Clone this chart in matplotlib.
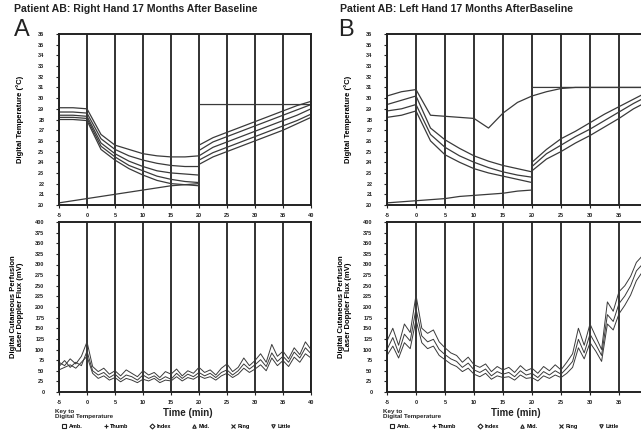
import numpy as np
import matplotlib.pyplot as plt
from matplotlib.lines import Line2D

plt.rcParams['font.family'] = ['Liberation Sans', 'DejaVu Sans']
plt.rcParams['font.weight'] = 'bold'

# ── data ──────────────────────────────────────────────────────
titles = ['Patient AB: Right Hand 17 Months After Baseline',
          'Patient AB: Left Hand 17 Months AfterBaseline']
panel_letters = ['A', 'B']
legend_names = ['Amb.', 'Thumb', 'Index', 'Mid.', 'Ring', 'Little']
legend_marks = ['s', '+', 'D', '^', 'x', 'v']

x_ticks = [-5, 0, 5, 10, 15, 20, 25, 30, 35, 40]

# temperature curves (deg C), time grid has the step at t=20 twice
t_temp = [-5, -2.5, 0, 2.5, 5, 7.5, 10, 12.5, 15, 17.5, 20, 20,
          22.5, 25, 27.5, 30, 32.5, 35, 37.5, 40]

tempA = [
    [20.2, 20.4, 20.6, 20.8, 21.0, 21.2, 21.4, 21.6, 21.8, 21.9, 22.0, 29.4,
     29.4, 29.4, 29.4, 29.4, 29.4, 29.4, 29.4, 29.4],
    [29.1, 29.1, 29.0, 26.6, 25.6, 25.2, 24.8, 24.6, 24.5, 24.5, 24.6, 25.6,
     26.3, 26.8, 27.3, 27.8, 28.3, 28.8, 29.3, 29.7],
    [28.7, 28.7, 28.6, 26.2, 25.2, 24.6, 24.2, 23.9, 23.7, 23.6, 23.6, 25.1,
     25.9, 26.4, 26.9, 27.4, 27.9, 28.4, 28.9, 29.4],
    [28.4, 28.4, 28.3, 25.8, 24.8, 24.1, 23.6, 23.2, 23.0, 22.9, 22.8, 24.6,
     25.4, 25.9, 26.4, 26.9, 27.4, 27.9, 28.4, 29.0],
    [28.2, 28.2, 28.1, 25.5, 24.5, 23.7, 23.2, 22.7, 22.4, 22.2, 22.1, 24.2,
     24.9, 25.4, 25.9, 26.4, 26.9, 27.4, 27.9, 28.5],
    [28.0, 28.0, 27.9, 25.2, 24.2, 23.4, 22.8, 22.3, 22.0, 21.9, 21.8, 23.8,
     24.5, 25.0, 25.5, 26.0, 26.5, 27.0, 27.6, 28.2],
]

tempB = [
    [20.2, 20.3, 20.4, 20.5, 20.6, 20.8, 20.9, 21.0, 21.1, 21.3, 21.4, 31.0,
     31.0, 31.0, 31.0, 31.0, 31.0, 31.0, 31.0, 31.0],
    [30.2, 30.6, 30.8, 28.4, 28.3, 28.2, 28.1, 27.2, 28.6, 29.6, 30.2, 30.2,
     30.6, 30.9, 31.0, 31.0, 31.0, 31.0, 31.0, 31.0],
    [29.4, 29.8, 30.2, 27.2, 26.1, 25.3, 24.6, 24.1, 23.7, 23.4, 23.1, 24.0,
     25.2, 26.2, 26.9, 27.7, 28.5, 29.2, 29.9, 30.6],
    [28.8, 29.0, 29.4, 26.6, 25.4, 24.6, 24.0, 23.5, 23.1, 22.8, 22.6, 23.6,
     24.8, 25.6, 26.4, 27.1, 27.9, 28.7, 29.5, 30.2],
    [28.2, 28.4, 28.8, 26.0, 24.7, 24.0, 23.4, 23.0, 22.7, 22.4, 22.1, 23.2,
     24.3, 25.0, 25.8, 26.5, 27.3, 28.1, 29.0, 29.7],
]

# laser doppler flux, one value per minute from -5 to 40
t_flux = list(range(-5, 41))

fluxA = [
    [70, 62, 78, 66, 84, 118, 60, 48, 56, 42, 50, 38, 52, 44, 36, 50, 40, 46,
     34, 48, 42, 54, 38, 50, 44, 58, 46, 52, 40, 56, 66, 48, 58, 80, 62, 74,
     90, 70, 112, 84, 96, 78, 104, 88, 118, 100],
    [60, 74, 58, 70, 62, 96, 50, 40, 46, 34, 42, 30, 40, 36, 28, 40, 32, 38,
     28, 36, 30, 44, 32, 42, 36, 46, 38, 44, 34, 46, 52, 40, 50, 66, 54, 64,
     76, 60, 92, 72, 84, 70, 94, 80, 104, 90],
    [52, 58, 64, 56, 70, 84, 44, 32, 38, 28, 34, 24, 32, 28, 22, 30, 26, 32,
     22, 28, 26, 36, 26, 34, 30, 38, 32, 36, 28, 38, 44, 34, 42, 56, 46, 54,
     64, 50, 80, 62, 74, 60, 82, 70, 90, 80],
]

fluxB = [
    [120, 150, 110, 160, 140, 228, 150, 138, 146, 118, 104, 92, 86, 70, 82,
     64, 58, 66, 48, 60, 52, 58, 46, 62, 50, 56, 44, 60, 50, 64, 52, 70, 90,
     150, 110, 160, 130, 100, 212, 190, 236, 250, 272, 305, 320, 335],
    [100, 128, 92, 136, 120, 196, 132, 118, 124, 100, 88, 78, 72, 58, 68, 52,
     46, 54, 38, 48, 42, 46, 36, 50, 40, 44, 34, 48, 40, 50, 42, 56, 72, 124,
     92, 136, 112, 86, 182, 166, 208, 226, 250, 285, 300, 315],
    [86, 108, 80, 116, 102, 170, 116, 102, 108, 86, 76, 66, 60, 48, 56, 42,
     36, 44, 30, 38, 34, 36, 28, 40, 32, 34, 26, 38, 32, 40, 34, 44, 58, 104,
     78, 116, 96, 72, 160, 146, 184, 204, 228, 262, 282, 298],
]

# ── figure ────────────────────────────────────────────────────
W, H = 641, 438
fig = plt.figure(figsize=(W / 100, H / 100), dpi=100)


def frac(x, y, w, h):
    # pixel box -> figure fraction
    return [x / W, 1 - (y + h) / H, w / W, h / H]


def style_axes(ax, ylim, ystep, gridstep, xt):
    ax.set_xlim(-5, 40)
    ax.set_ylim(*ylim)
    ax.set_xticks(x_ticks)
    ax.set_xticklabels([str(v) if v in xt else '' for v in x_ticks])
    ax.set_yticks(np.arange(ylim[0], ylim[1] + ystep / 2, ystep))
    ax.set_yticks(np.arange(ylim[0], ylim[1] + gridstep / 2, gridstep), minor=True)
    ax.grid(True, axis='x', which='major', color='#222222', lw=1.3)
    ax.grid(True, axis='y', which='minor', color='#222222', lw=1.3)
    ax.tick_params(axis='both', which='major', labelsize=4, length=2.5,
                   width=0.8, colors='#222222')
    ax.tick_params(axis='x', which='major', pad=3)
    ax.tick_params(axis='y', which='major', pad=8)
    ax.tick_params(axis='y', which='minor', length=0)
    for s in ax.spines.values():
        s.set_color('#222222')
        s.set_linewidth(1.4)
    for lab in ax.get_xticklabels() + ax.get_yticklabels():
        lab.set_fontweight('bold')


panels = [
    dict(left=59, width=252, temp=tempA, flux=fluxA, tx=14, lx=14,
         xt=x_ticks),
    dict(left=387, width=261, temp=tempB, flux=fluxB, tx=340, lx=338,
         xt=x_ticks[:-1]),
]

for i, p in enumerate(panels):
    ax1 = fig.add_axes(frac(p['left'], 34, p['width'], 171))
    ax2 = fig.add_axes(frac(p['left'], 222, p['width'], 170))

    for series in p['temp']:
        ax1.plot(t_temp, series, color='#3a3a3a', lw=0.9)
    for series in p['flux']:
        ax2.plot(t_flux, series, color='#3a3a3a', lw=0.7)

    style_axes(ax1, (20, 36), 1, 2, p['xt'])
    style_axes(ax2, (0, 400), 25, 50, p['xt'])

    ax1.set_ylabel('Digital Temperature (\u00b0C)', fontsize=5.5,
                   fontweight='bold', labelpad=10)
    ax2.set_ylabel('Digital Cutaneous Perfusion\nLaser Doppler Flux (mV)',
                   fontsize=5.5, fontweight='bold', labelpad=8,
                   linespacing=1.0)

    fig.text(p['tx'] / W, 1 - 9 / H, titles[i], fontsize=7.6,
             fontweight='bold', va='center', ha='left', color='#222222')
    fig.text(p['lx'] / W, 1 - 30 / H, panel_letters[i], fontsize=17,
             fontweight='normal', va='center', ha='left', color='#222222')

    fig.text((p['left'] - 4) / W, 1 - 414 / H, 'Key to\nDigital Temperature',
             fontsize=4.5, fontweight='bold', va='center', ha='left',
             linespacing=0.9, color='#222222')
    fig.text((p['left'] + 104) / W, 1 - 413 / H, 'Time (min)',
             fontsize=7, fontweight='bold', va='center', ha='left',
             color='#222222')

    handles = [Line2D([], [], ls='none', marker=m, ms=2.5, mfc='none',
                      mec='#222222', mew=0.8) for m in legend_marks]
    ax2.legend(handles, legend_names, ncol=6, frameon=False, fontsize=4,
               loc='center left', bbox_to_anchor=(-0.01, -0.205),
               handletextpad=0.3, columnspacing=3.7, handlelength=1.0)

fig.savefig('out.png', dpi=100)
